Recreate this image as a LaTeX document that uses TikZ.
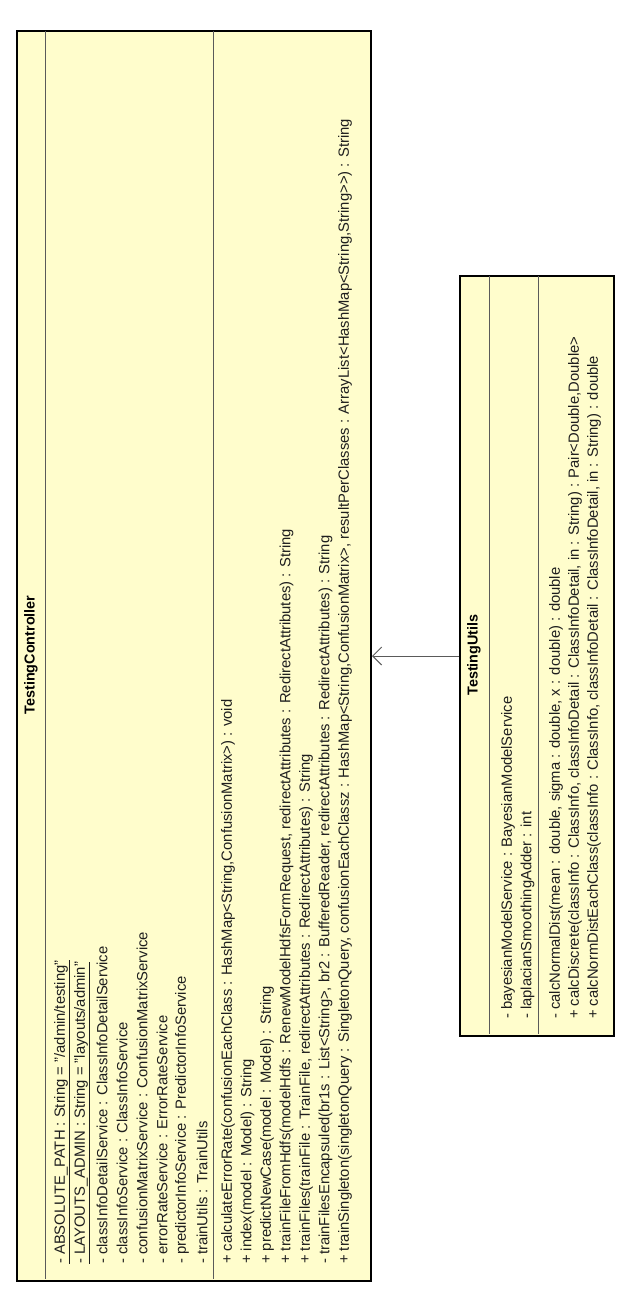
\documentclass[tikz,border=0pt]{standalone}
\usepackage{fontspec}
\setmainfont{Liberation Sans}
\usetikzlibrary{arrows.meta}
\definecolor{umlfill}{RGB}{255,253,204}
\definecolor{divgray}{RGB}{90,90,90}
\definecolor{txtcol}{RGB}{30,30,30}
\begin{document}
\begin{tikzpicture}[x=1pt,y=-1pt,
  txt/.style={font=\fontsize{14.8}{16}\selectfont, inner sep=0pt, anchor=west, rotate=90, text=txtcol},
  ttl/.style={font=\fontsize{14.4}{16}\selectfont\bfseries, inner sep=0pt, rotate=90, text=black},
  umlbox/.style={draw=black, line width=2pt, fill=umlfill, inner sep=0pt, anchor=north west},
  divline/.style={draw=divgray, line width=1pt},
  assoc/.style={draw=divgray, line width=1pt, -{Straight Barb[length=9pt, width=18pt, line width=1pt]}}]
\useasboundingbox (0,0) rectangle (623,1292);
% TestingController
\node[umlbox, minimum width=354pt, minimum height=1250pt] (tc) at (16,30) {};
\draw[divline] (45,31) -- (45,1279);
\draw[divline] (213,31) -- (213,1279);
\node[ttl] (tcname) at (31,655) {TestingController};
\node[txt] (a1) at (62,1264) {\underline{- ABSOLUTE\_PATH : String = "/admin/testing"}};
\node[txt] (a2) at (82,1264) {\underline{- LAYOUTS\_ADMIN : String = "layouts/admin"}};
\node[txt] (a3) at (102,1264) {- classInfoDetailService : ClassInfoDetailService};
\node[txt] (a4) at (122,1264) {- classInfoService : ClassInfoService};
\node[txt] (a5) at (142,1264) {- confusionMatrixService : ConfusionMatrixService};
\node[txt] (a6) at (162,1264) {- errorRateService : ErrorRateService};
\node[txt] (a7) at (182,1264) {- predictorInfoService : PredictorInfoService};
\node[txt] (a8) at (202,1264) {- trainUtils : TrainUtils};
\node[txt] (o1) at (228,1264) {+ calculateErrorRate(confusionEachClass : HashMap<String,ConfusionMatrix>) : void};
\node[txt] (o2) at (247.5,1264) {+ index(model : Model) : String};
\node[txt] (o3) at (267,1264) {+ predictNewCase(model : Model) : String};
\node[txt] (o4) at (286.5,1264) {+ trainFileFromHdfs(modelHdfs : RenewModelHdfsFormRequest, redirectAttributes : RedirectAttributes) : String};
\node[txt] (o5) at (306,1264) {+ trainFiles(trainFile : TrainFile, redirectAttributes : RedirectAttributes) : String};
\node[txt] (o6) at (325.5,1264) {- trainFilesEncapsuled(br1s : List<String>, br2 : BufferedReader, redirectAttributes : RedirectAttributes) : String};
\node[txt] (o7) at (345,1264) {+ trainSingleton(singletonQuery : SingletonQuery, confusionEachClassz : HashMap<String,ConfusionMatrix>, resultPerClasses : ArrayList<HashMap<String,String>{}>) : String};
% TestingUtils
\node[umlbox, minimum width=154pt, minimum height=760pt] (tu) at (459,275) {};
\draw[divline] (489,276) -- (489,1034);
\draw[divline] (538,276) -- (538,1034);
\node[ttl] (tuname) at (474,655) {TestingUtils};
\node[txt] (b1) at (508,1019) {- bayesianModelService : BayesianModelService};
\node[txt] (b2) at (527.5,1019) {- laplacianSmoothingAdder : int};
\node[txt] (p1) at (556,1019) {- calcNormalDist(mean : double, sigma : double, x : double) : double};
\node[txt] (p2) at (575,1019) {+ calcDiscrete(classInfo : ClassInfo, classInfoDetail : ClassInfoDetail, in : String) : Pair<Double,Double>};
\node[txt] (p3) at (594,1019) {+ calcNormDistEachClass(classInfo : ClassInfo, classInfoDetail : ClassInfoDetail, in : String) : double};
% association
\draw[assoc] (tu.west) -- (tu.west -| tc.east);
\end{tikzpicture}
\end{document}
